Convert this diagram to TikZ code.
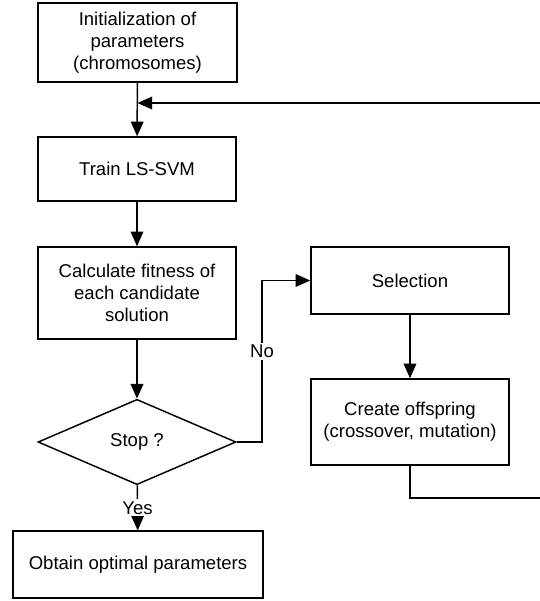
\documentclass[tikz,border=0pt]{standalone}
\usepackage{fontspec}
\setmainfont{Liberation Sans}
\usepackage{tikz}
\usetikzlibrary{positioning, calc}
\usetikzlibrary{shapes.geometric, arrows.meta}

\begin{document}
\begin{tikzpicture}[x=0.75pt, y=-0.75pt,
                    blk/.style={draw, line width=1.1pt, align=center, inner sep=0pt, font=\fontsize{13.9}{16.5}\selectfont},
                    lbl/.style={fill=white, inner sep=1.5pt, font=\fontsize{13.9}{16.5}\selectfont},
                    arr/.style={line width=1.1pt, -{Triangle[length=11pt,width=9.5pt]}},
                    ln/.style={line width=1.1pt}]
                    \useasboundingbox (0,0) rectangle (540,601);
                    % left column
                    \node[blk, minimum width=149pt, minimum height=59pt] (init) at (137.5,42.5) {Initialization of\\parameters\\(chromosomes)};
                    \node[blk, minimum width=148.5pt, minimum height=48pt] (train) at (137,169) {Train LS-SVM};
                    \node[blk, minimum width=148.5pt, minimum height=69pt] (fit) at (137,293) {Calculate fitness of\\each candidate\\solution};
                    \node[blk, diamond, minimum width=148.5pt, minimum height=64pt] (stop) at (137,442) {Stop ?};
                    \node[blk, minimum width=187.5pt, minimum height=50pt] (opt) at (138,564.5) {Obtain optimal parameters};
                    % right column
                    \node[blk, minimum width=148.5pt, minimum height=50pt] (sel) at (410,280.5) {Selection};
                    \node[blk, minimum width=148.5pt, minimum height=64.5pt] (off) at (410,422) {Create offspring\\(crossover, mutation)};
                    % loop back
                    \coordinate (fbin) at (540,103);
                    \coordinate (fbout) at (540,498);
                    \coordinate (nobend) at (262,281);
                    \draw[arr] (init) -- (train);
                    \draw[arr] (fbin) -- (fbin -| init.south);
                    \draw[arr] (train) -- (fit);
                    \draw[arr] (fit) -- (stop);
                    \draw[arr] (stop.east) -- (stop.east -| nobend) -- node[lbl, pos=.56] {No} (nobend |- sel.west) -- (sel.west);
                    \draw[arr] (stop) -- node[lbl] {Yes} (opt);
                    \draw[arr] (sel) -- (off);
                    \draw[ln] (off.south) -- (off.south |- fbout) -- (fbout);
                \end{tikzpicture}
\end{document}
